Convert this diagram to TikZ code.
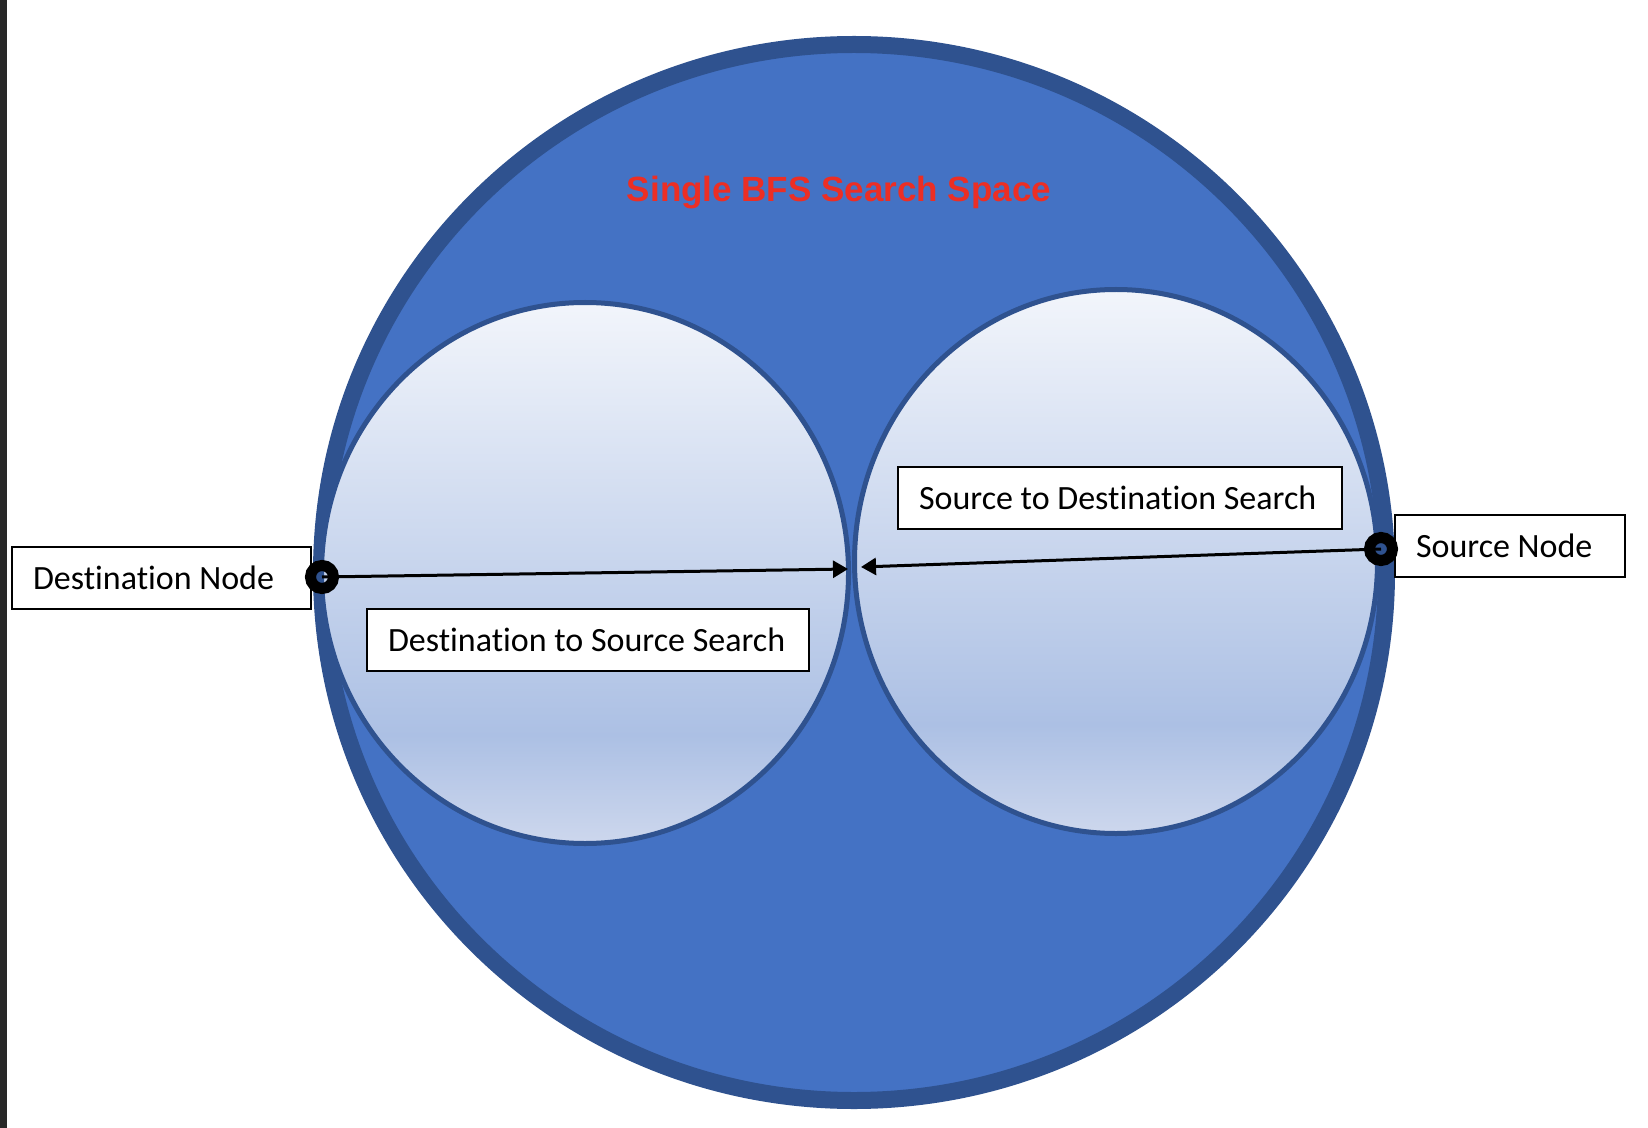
\documentclass[tikz,border=0pt]{standalone}
\usepackage{fontspec}
\setmainfont{Carlito}[Ligatures=NoCommon]
\newfontfamily\titlefont{Liberation Sans}
\usetikzlibrary{arrows.meta}
\definecolor{bigfill}{RGB}{68,114,196}
\definecolor{bigborder}{RGB}{47,82,143}
\definecolor{bubT}{RGB}{242,245,251}
\definecolor{bubM}{RGB}{172,192,228}
\definecolor{bubB}{RGB}{205,215,237}
\definecolor{titlered}{RGB}{236,46,36}
\definecolor{stripgray}{RGB}{40,40,40}
\pgfdeclareverticalshading{bubble}{100bp}{color(0bp)=(bubB); color(25bp)=(bubB); color(35bp)=(bubM); color(75bp)=(bubT); color(100bp)=(bubT)}
\newcommand{\boxtext}[2]{\makebox[#1][l]{#2}}
\begin{document}
\begin{tikzpicture}[x=0.5pt,y=-0.5pt,
  labelbox/.style={draw=black, line width=1pt, fill=white, inner xsep=10.5pt, inner ysep=0pt, minimum height=31pt, font=\fontsize{17pt}{19pt}\selectfont},
  bubblestyle/.style={shading=bubble, draw=bigborder, line width=2.5pt},
  endpoint/.style={circle, draw=black, line width=5.5pt, minimum size=11.5pt, inner sep=0pt},
  searcharrow/.style={line width=1.5pt, -{Triangle[length=7.5pt,width=8.5pt]}}]
\useasboundingbox (0,0) rectangle (1648,1128);
\fill[white] (0,0) rectangle (1648,1128);
\fill[stripgray] (0,0) rectangle (7,1128);
% big search space
\draw[fill=bigfill, draw=bigborder, line width=8.5pt] (854,572.5) ellipse [x radius=266.25pt, y radius=264pt];
\node[font=\titlefont\bfseries\fontsize{17.5pt}{20pt}\selectfont, text=titlered, anchor=base] (title) at (839,202) {Single BFS Search Space};
% two bubbles
\shade[bubblestyle] (585,573) ellipse [x radius=131.75pt, y radius=135.25pt];
\shade[bubblestyle] (1116,561.5) ellipse [x radius=130.75pt, y radius=136pt];
% meeting points
\coordinate (meetL) at (848,569);
\coordinate (meetR) at (861,567);
% label boxes
\node[labelbox] (dstbox) at (161.5,578) {\boxtext{128.5pt}{Destination Node}};
\node[labelbox] (srcbox) at (1510,546) {\boxtext{94pt}{Source Node}};
\node[labelbox] (s2d) at (1120,498) {\boxtext{201pt}{Source to Destination Search}};
\node[labelbox] (d2s) at (588,639.5) {\boxtext{200pt}{Destination to Source Search}};
% endpoints
\node[endpoint] (dst) at (322,577) {};
\node[endpoint] (src) at (1381,549) {};
\draw[searcharrow] (dst.center) -- (meetL);
\draw[searcharrow] (src.center) -- (meetR);
\end{tikzpicture}
\end{document}
